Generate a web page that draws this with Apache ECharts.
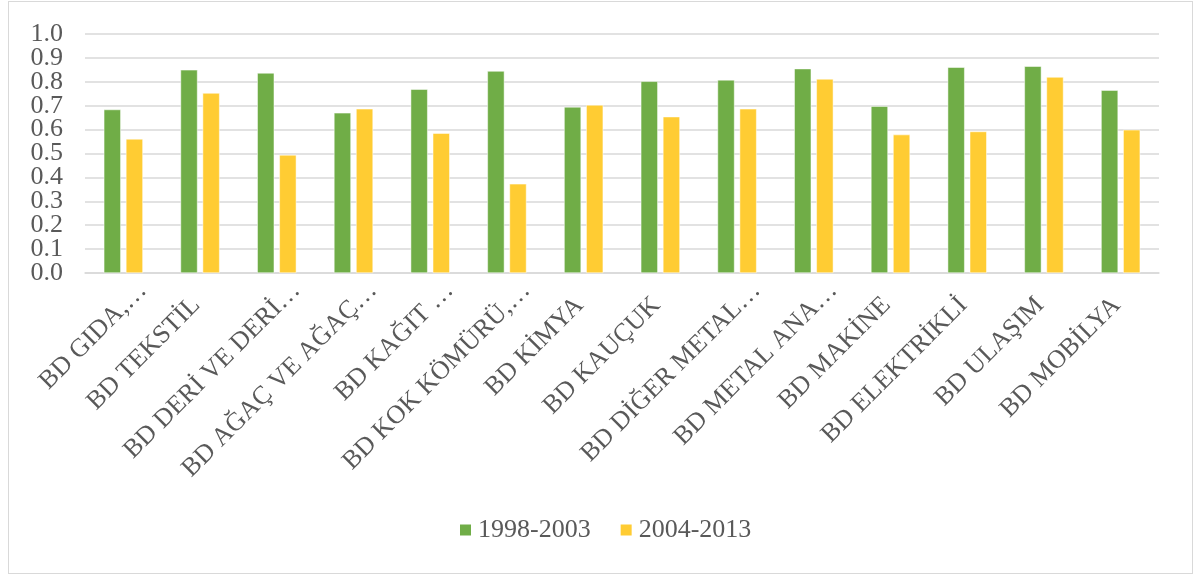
<!DOCTYPE html>
<html>
<head>
<meta charset="utf-8">
<script src="https://cdn.jsdelivr.net/npm/echarts@6/dist/echarts.min.js"></script>
<style>
html,body{margin:0;padding:0;background:#fff;}
#frame{position:absolute;left:8px;top:1px;width:1183px;height:571px;border:1.5px solid #d9d9d9;}
#chart{position:absolute;left:0;top:0;width:1201px;height:576px;}
</style>
</head>
<body>
<div id="frame"></div>
<div id="chart"></div>
<script>
const categories = ["BD GIDA,…", "BD TEKSTİL", "BD DERİ VE DERİ…", "BD AĞAÇ VE AĞAÇ…", "BD KAĞIT …", "BD KOK KÖMÜRÜ,…", "BD KİMYA", "BD KAUÇUK", "BD DİĞER METAL…", "BD METAL ANA…", "BD MAKİNE", "BD ELEKTRİKLİ", "BD ULAŞIM", "BD MOBİLYA"];
const seriesNames = ["1998-2003", "2004-2013"];
const values1998 = [0.684, 0.850, 0.837, 0.670, 0.769, 0.845, 0.695, 0.802, 0.808, 0.855, 0.698, 0.861, 0.865, 0.765];
const values2004 = [0.561, 0.753, 0.494, 0.687, 0.585, 0.373, 0.703, 0.654, 0.687, 0.812, 0.579, 0.592, 0.820, 0.599];
const yTicks = ["0.0", "0.1", "0.2", "0.3", "0.4", "0.5", "0.6", "0.7", "0.8", "0.9", "1.0"];

const font = "'Liberation Serif', 'Times New Roman', serif";
const labelText = {fontFamily: font, fontSize: 26, color: '#595959'};
const tickIndex = v => Math.round(v * 10);
// labels next to the ends would be dropped by the overlap check, so they are drawn by a twin axis
const edgeNeighbours = [1, 9];
const yBase = {
  type: 'value', min: 0, max: 1, interval: 0.1, position: 'left',
  axisLine: {show: false}, axisTick: {show: false}
};
const chart = echarts.init(document.getElementById('chart'), null, {renderer: 'canvas'});
chart.setOption({
  animation: false,
  backgroundColor: 'transparent',
  grid: {left: 85, right: 42, top: 34, bottom: 303, containLabel: false, outerBoundsMode: 'none'},
  legend: {
    data: seriesNames,
    left: 458,
    top: 517,
    padding: 0,
    itemWidth: 13,
    itemHeight: 13,
    itemGap: 28,
    icon: 'rect',
    textStyle: {fontFamily: font, fontSize: 26, color: '#595959', padding: [0, 0, 0, 1]}
  },
  xAxis: {
    type: 'category',
    data: categories,
    axisLine: {lineStyle: {color: '#d9d9d9', width: 1.5}},
    axisTick: {show: false},
    axisLabel: {
      rotate: 45, interval: 0, margin: -6, hideOverlap: false,
      fontFamily: font, fontSize: 26, color: '#595959',
      formatter: v => (v.endsWith('…') ? '{t|' + v + '}' : '{f|' + v + '}'),
      rich: {
        f: Object.assign({padding: [43, 27, 0, 0]}, labelText),
        t: Object.assign({padding: [55, 0, 0, 0]}, labelText)
      }
    }
  },
  yAxis: [
    Object.assign({}, yBase, {
      splitLine: {lineStyle: {color: '#d9d9d9', width: 1.5}},
      axisLabel: Object.assign({showMinLabel: true, showMaxLabel: true, hideOverlap: false, margin: 22,
        formatter: v => yTicks[tickIndex(v)]}, labelText)
    }),
    Object.assign({}, yBase, {
      splitLine: {show: false},
      axisLabel: Object.assign({showMinLabel: true, showMaxLabel: true, hideOverlap: false, margin: 22,
        formatter: v => (edgeNeighbours.includes(tickIndex(v)) ? yTicks[tickIndex(v)] : '')}, labelText)
    })
  ],
  series: [
    {name: seriesNames[0], type: 'bar', data: values1998, barWidth: 17, barGap: '30%', yAxisIndex: 0,
     itemStyle: {color: '#70AD47', borderColor: '#ffffff', borderWidth: 0.5}},
    {name: seriesNames[1], type: 'bar', data: values2004, barWidth: 17, yAxisIndex: 0,
     itemStyle: {color: '#FFCC33', borderColor: '#ffffff', borderWidth: 0.5}}
  ]
});
</script>
</body>
</html>
